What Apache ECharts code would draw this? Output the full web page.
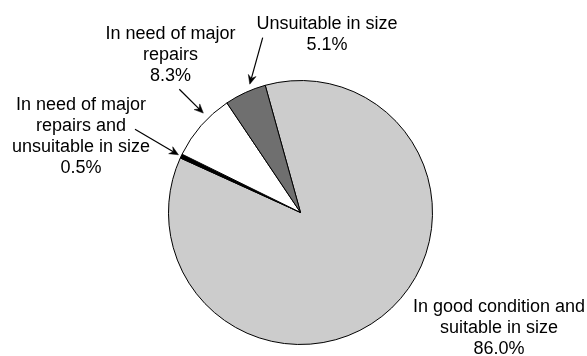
<!DOCTYPE html>
<html>
<head>
<meta charset="utf-8">
<script src="https://cdn.jsdelivr.net/npm/echarts@6/dist/echarts.min.js"></script>
<style>
  html, body { margin: 0; padding: 0; background: #ffffff; }
  #chart { width: 587px; height: 356px; }
</style>
</head>
<body>
<div id="chart"></div>
<script>
// Dwelling condition shares (percent)
const categories = [
  'In good condition and\nsuitable in size',
  'In need of major\nrepairs and\nunsuitable in size',
  'In need of major\nrepairs',
  'Unsuitable in size'
];
const shares = [86.0, 0.5, 8.3, 5.1];
const sliceColors = ['#cccccc', '#000000', '#ffffff', '#6f6f6f'];

// Pie geometry (pixels / degrees)
const CX = 300.5, CY = 212.5, R = 132, START_ANGLE = 105.5;

// Label anchors: centre x, top y
const labelPos = [[499, 297], [81, 95], [170.5, 24], [327, 14]];

// Arrow callouts: tail near the label, where along the slice the head points, gap beyond the rim
const callouts = [
  null,
  { tail: [135, 129.3], along: 0.5, gap: 3 },
  { tail: [179.3, 89.3], along: 0.65, gap: 7 },
  { tail: [262.7, 37.7], along: 0.67, gap: 6 }
];

const FONT = '"Liberation Sans", Arial, Helvetica, sans-serif';

const chart = echarts.init(document.getElementById('chart'), null, { renderer: 'canvas' });

// Arrow geometry derived from the slice angles
function buildArrows() {
  const total = shares.reduce((a, b) => a + b, 0);
  const out = [];
  let cum = 0;
  shares.forEach((v, i) => {
    const a0 = START_ANGLE - 360 * cum / total;
    const a1 = a0 - 360 * v / total;
    cum += v;
    const c = callouts[i];
    if (!c) return;
    const ang = (a0 + (a1 - a0) * c.along) * Math.PI / 180;
    const rr = R + c.gap;
    const tip = [CX + rr * Math.cos(ang), CY - rr * Math.sin(ang)];
    const dx = tip[0] - c.tail[0], dy = tip[1] - c.tail[1];
    const len = Math.hypot(dx, dy);
    const ux = dx / len, uy = dy / len;
    const nx = -uy, ny = ux;
    const L = 9, W = 4, notch = 3;
    const back = [tip[0] - L * ux, tip[1] - L * uy];
    const mid = [tip[0] - (L - notch) * ux, tip[1] - (L - notch) * uy];
    out.push({
      type: 'line',
      silent: true,
      shape: { x1: c.tail[0], y1: c.tail[1], x2: mid[0], y2: mid[1] },
      style: { stroke: '#000', lineWidth: 1.2 }
    });
    out.push({
      type: 'polygon',
      silent: true,
      shape: {
        points: [
          tip,
          [back[0] + W * nx, back[1] + W * ny],
          mid,
          [back[0] - W * nx, back[1] - W * ny]
        ]
      },
      style: { fill: '#000', stroke: '#000', lineWidth: 0.5 }
    });
  });
  return out;
}

chart.setOption({
  animation: false,
  backgroundColor: '#ffffff',
  series: [{
    type: 'pie',
    center: [CX, CY],
    radius: R,
    startAngle: START_ANGLE,
    clockwise: true,
    avoidLabelOverlap: false,
    data: shares.map((v, i) => ({
      name: categories[i],
      value: v,
      itemStyle: { color: sliceColors[i] }
    })),
    itemStyle: { borderColor: '#000000', borderWidth: 1 },
    emphasis: { disabled: true },
    label: {
      show: true,
      color: '#000000',
      fontFamily: FONT,
      fontSize: 18,
      lineHeight: 21,
      align: 'center',
      formatter: p => p.name + '\n' + p.value.toFixed(1) + '%'
    },
    labelLine: { show: false },
    labelLayout: params => {
      const p = labelPos[params.dataIndex];
      return { x: p[0], y: p[1], align: 'center', verticalAlign: 'top' };
    }
  }],
  graphic: buildArrows()
});
</script>
</body>
</html>
